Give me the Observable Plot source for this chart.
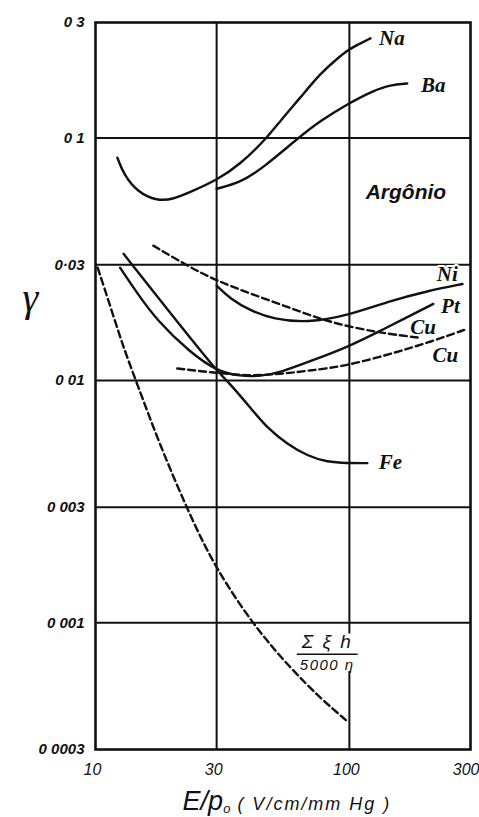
<!DOCTYPE html>
<html><head><meta charset="utf-8">
<script src="https://cdn.jsdelivr.net/npm/d3@7"></script>
<script src="https://cdn.jsdelivr.net/npm/@observablehq/plot@0.6"></script>
<style>body{margin:0;background:#fff}</style>
</head><body><div id="chart"></div>
<script>
// Axes
const xTicks = [10, 30, 100, 300];
const xTickLabels = ["10", "30", "100", "300"];
const xGrid = [30, 100];
const yTicks = [0.3, 0.1, 0.03, 0.01, 0.003, 0.001, 0.0003];
const yTickLabels = ["0 3", "0 1", "0·03", "0 01", "0 003", "0 001", "0 0003"];
const yGrid = [0.1, 0.03, 0.01, 0.003, 0.001];

// Series (E/p0, gamma)
const naX = [12.2, 12.9, 14.6, 17.5, 20.3, 23.7, 30, 37.2, 47.5, 53.5, 64.1, 76.9, 89.7, 99.1, 110.4, 121];
const naY = [0.083, 0.071, 0.060, 0.055, 0.056, 0.060, 0.067, 0.078, 0.1005, 0.118, 0.147, 0.185, 0.213, 0.232, 0.246, 0.258];
const baX = [30, 37.2, 45.8, 62.4, 76.9, 99.1, 124.3, 145, 169];
const baY = [0.0618, 0.0655, 0.0755, 0.0995, 0.118, 0.139, 0.157, 0.166, 0.168];
const feX = [12.9, 19.7, 30, 34.0, 40.8, 47.5, 57.0, 68.4, 81.9, 98.2, 117.7];
const feY = [0.0333, 0.0190, 0.01095, 0.00966, 0.0077, 0.00636, 0.00546, 0.00488, 0.0046, 0.00456, 0.00456];
const ptX = [12.5, 14.4, 17.5, 23.7, 30, 37.2, 44.6, 53.5, 68.4, 98.2, 132, 179, 214];
const ptY = [0.0292, 0.0234, 0.0176, 0.0130, 0.01095, 0.0104, 0.0104, 0.0108, 0.0119, 0.0137, 0.0160, 0.0188, 0.0207];
const niX = [30, 34, 40.8, 50.2, 68.4, 98.2, 145, 203, 279];
const niY = [0.0246, 0.0217, 0.0194, 0.0179, 0.0173, 0.0185, 0.0213, 0.0234, 0.0250];
const cuUpperX = [16.9, 23.0, 30, 40.8, 58.6, 84.2, 132, 190];
const cuUpperY = [0.036, 0.0297, 0.0258, 0.0228, 0.0199, 0.0173, 0.0157, 0.0150];
const cuLowerX = [21.0, 30, 40.8, 53.5, 68.4, 98.2, 145, 203, 291];
const cuLowerY = [0.0112, 0.01074, 0.01043, 0.01064, 0.01095, 0.0115, 0.01287, 0.01428, 0.01632];
const sigmaX = [10.2, 11.5, 12.9, 14.6, 18.0, 23.0, 29.1, 41.9, 58.6, 76.9, 98.2];
const sigmaY = [0.0292, 0.0199, 0.01362, 0.00966, 0.00536, 0.00294, 0.00174, 0.000975, 0.00065, 0.000488, 0.000392];

// Curve labels
const labelText = ["Na", "Ba", "Ni", "Pt", "Cu", "Cu", "Fe"];
const labelX = [147, 214, 243, 250, 195, 239, 145];
const labelY = [0.258, 0.166, 0.0275, 0.0203, 0.0165, 0.0127, 0.0046];
const gasText = "Argônio", gasX = 167, gasY = 0.060;
const fracNum = "Σ ξ h", fracDen = "5000 η", fracX = 81.8, fracNumY = 0.00083, fracDenY = 0.000668;
const yLabel = "γ", yLabelY = 0.0219;

const series = [
  {name: "Na", x: naX, y: naY, dashed: false},
  {name: "Ba", x: baX, y: baY, dashed: false},
  {name: "Fe", x: feX, y: feY, dashed: false},
  {name: "Pt", x: ptX, y: ptY, dashed: false},
  {name: "Ni", x: niX, y: niY, dashed: false},
  {name: "CuUpper", x: cuUpperX, y: cuUpperY, dashed: true},
  {name: "CuLower", x: cuLowerX, y: cuLowerY, dashed: true},
  {name: "Sigma", x: sigmaX, y: sigmaY, dashed: true}
];
const rows = series.flatMap(s => s.x.map((x, i) => ({series: s.name, x, y: s.y[i], dashed: s.dashed})));
const labels = labelText.map((t, i) => ({t, x: labelX[i], y: labelY[i]}));

const ink = "#111";
const lastX = xTicks[xTicks.length - 1];
const chart = Plot.plot({
  width: 479, height: 817,
  marginLeft: 95, marginRight: 9, marginTop: 22, marginBottom: 68,
  style: {fontFamily: "Liberation Sans, sans-serif", background: "#fff", color: ink},
  x: {type: "log", domain: [10, 300]},
  y: {type: "log", domain: [0.0003, 0.3]},
  marks: [
    Plot.ruleX(xGrid, {stroke: ink, strokeWidth: 2}),
    Plot.ruleY(yGrid, {stroke: ink, strokeWidth: 2}),
    Plot.line(rows.filter(d => !d.dashed), {x: "x", y: "y", z: "series", curve: "basis", stroke: ink, strokeWidth: 2.4}),
    Plot.line(rows.filter(d => d.dashed), {x: "x", y: "y", z: "series", curve: "basis", stroke: ink, strokeWidth: 2.4, strokeDasharray: "7,4"}),
    Plot.frame({stroke: ink, strokeWidth: 2.6}),
    Plot.text(labels, {x: "x", y: "y", text: "t", fontFamily: "Liberation Serif, serif", fontStyle: "italic", fontWeight: "bold", fontSize: 21, fill: ink, stroke: "white", strokeWidth: 4}),
    Plot.text([gasText], {x: [gasX], y: [gasY], text: d => d, fontFamily: "Liberation Sans, sans-serif", fontStyle: "italic", fontWeight: "bold", fontSize: 21, fill: ink}),
    Plot.text([fracNum], {x: [fracX], y: [fracNumY], text: d => d, fontStyle: "italic", fontSize: 19, fill: ink, className: "fracnum"}),
    Plot.text([fracDen], {x: [fracX], y: [fracDenY], text: d => d, fontStyle: "italic", fontSize: 15, fill: ink, className: "fracden"}),
    Plot.text([yLabel], {y: [yLabelY], frameAnchor: "left", dx: -73, text: d => d, fontFamily: "Liberation Serif, serif", fontStyle: "italic", fontSize: 40, fill: ink}),
    Plot.axisX({ticks: xTicks.slice(0, -1), tickFormat: d => xTickLabels[xTicks.indexOf(d)], tickSize: 0, tickPadding: 14, label: null, fontSize: 16, fontStyle: "italic", dx: -3}),
    Plot.axisX({ticks: [lastX], tickFormat: d => xTickLabels[xTicks.indexOf(d)], tickSize: 0, tickPadding: 14, label: null, fontSize: 16, fontStyle: "italic", textAnchor: "end", dx: 9}),
    Plot.axisY({ticks: yTicks, tickFormat: d => yTickLabels[yTicks.findIndex(t => Math.abs(t - d) / t < 1e-6)], tickSize: 0, tickPadding: 11, label: null, fontSize: 15, fontStyle: "italic", fontWeight: "bold"})
  ]
});
document.getElementById("chart").appendChild(chart);

const svg = d3.select(chart);
// fraction: letter spacing, white backing and bar
const numEl = svg.select(".fracnum text").attr("letter-spacing", 2).node();
const denEl = svg.select(".fracden text").attr("letter-spacing", 1.5).node();
if (numEl && denEl) {
  const s = chart.getBoundingClientRect();
  const a = numEl.getBoundingClientRect(), b = denEl.getBoundingClientRect();
  const left = Math.min(a.left, b.left) - s.left - 3, right = Math.max(a.right, b.right) - s.left + 3;
  const top = a.top - s.top + 2, bottom = b.bottom - s.top - 2;
  svg.insert("rect", ".fracnum").attr("x", left).attr("y", top).attr("width", right - left)
    .attr("height", bottom - top).attr("fill", "white");
  const yBar = (a.bottom + b.top) / 2 - s.top;
  svg.append("line").attr("x1", left).attr("x2", right).attr("y1", yBar).attr("y2", yBar)
    .attr("stroke", ink).attr("stroke-width", 1.6);
}
// x-axis title
const t = svg.append("text").attr("x", 287).attr("y", 810).attr("text-anchor", "middle")
  .attr("fill", ink).attr("font-style", "italic").attr("font-family", "Liberation Sans, sans-serif");
t.append("tspan").attr("font-size", 27).text("E/p");
t.append("tspan").attr("font-size", 13).attr("dy", 3).text("o");
t.append("tspan").attr("font-size", 18).attr("dy", -3).attr("letter-spacing", 2).text(" ( V/cm/mm Hg )");
</script>
</body></html>
